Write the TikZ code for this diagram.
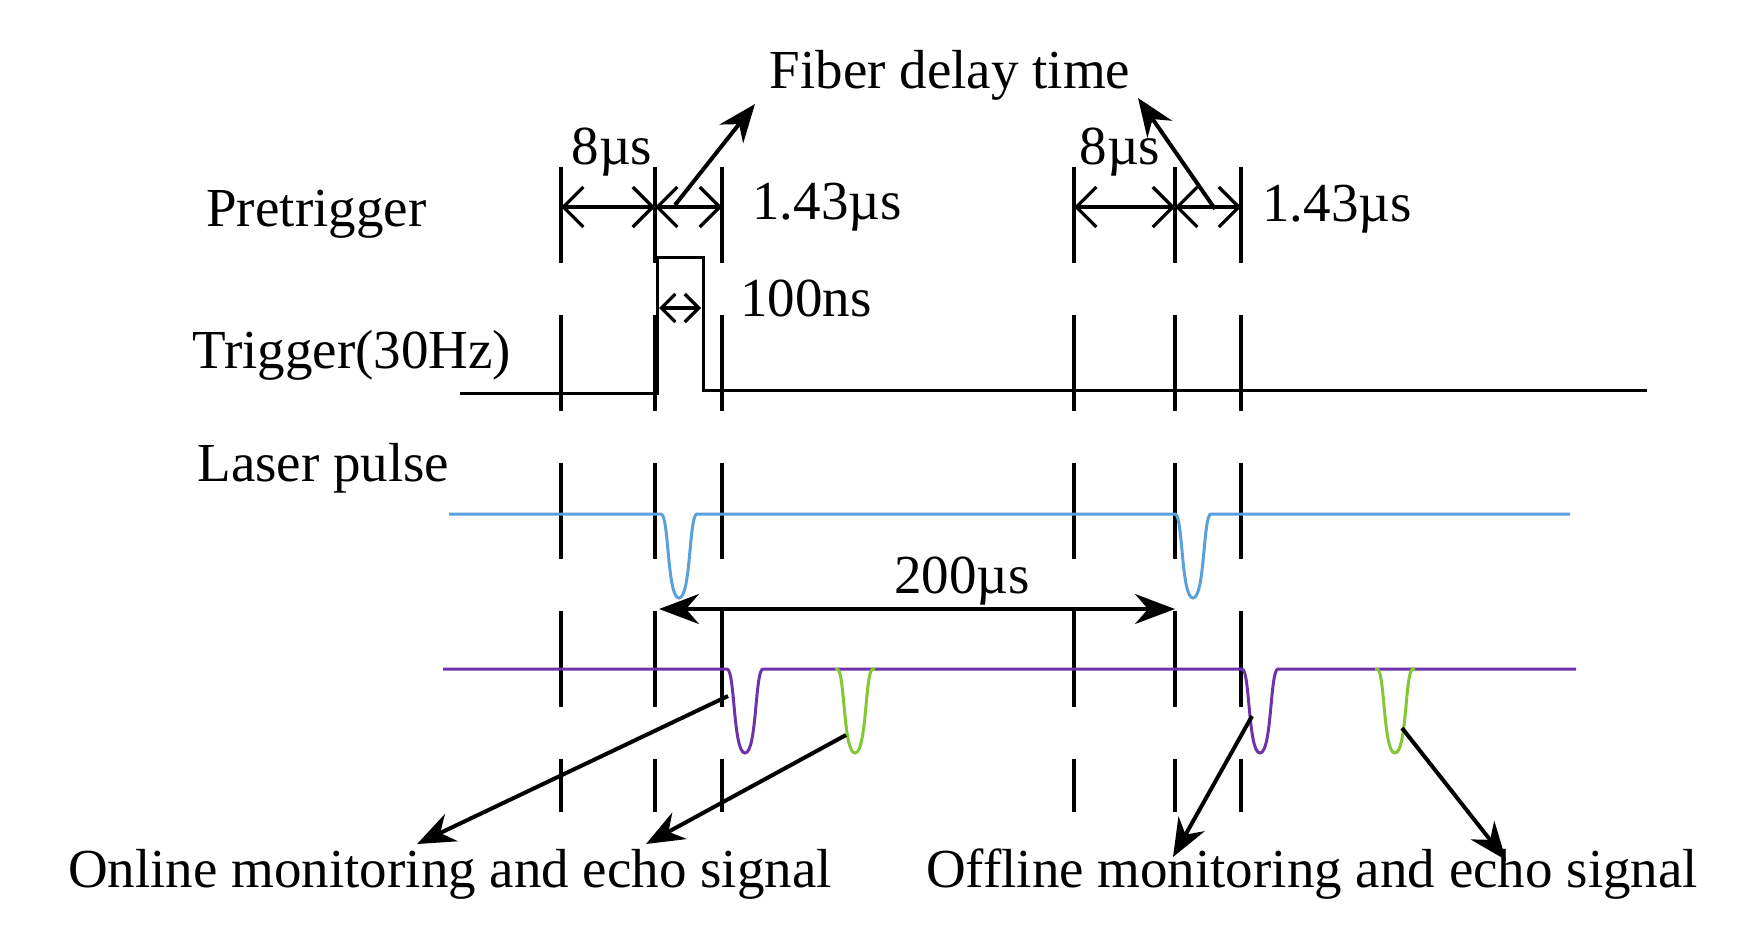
\documentclass[tikz,border=0pt]{standalone}
\usepackage{fontspec}
\setmainfont{Liberation Serif}
\usetikzlibrary{arrows.meta}
\begin{document}
\begin{tikzpicture}[x=0.5pt,y=-0.5pt,
  lbl/.style={font=\fontsize{27.5}{30}\selectfont,inner sep=0pt},
  dashln/.style={line width=1.6pt,dash pattern=on 48pt off 26pt},
  dimarr/.style={line width=1.6pt,{Straight Barb[length=10pt,width=20pt]}-{Straight Barb[length=10pt,width=20pt]}},
  ann/.style={line width=2pt,-{Stealth[length=19pt,width=15pt]}},
  sig/.style={line width=1.5pt}]
\useasboundingbox (0,0) rectangle (1759,943);
% dashed vertical lines
\foreach \x/\n in {561/a,655/b,722/c,1074/d,1175/e,1241/f}{
  \coordinate (\n t) at (\x,167); \coordinate (\n m) at (\x,207);
  \draw[dashln] (\x,167) -- (\x,812);
}
% labels
\node[lbl,anchor=west] (pre) at (206,214) {Pretrigger};
\node[lbl,anchor=west] (trg) at (192,355) {Trigger(30Hz)};
\node[lbl,anchor=west] (las) at (197,468) {Laser pulse};
\node[lbl] (fib) at (950,75) {Fiber delay time};
\node[lbl] (e1) at (612,152) {8µs};
\node[lbl] (e2) at (1120,152) {8µs};
\node[lbl,anchor=west] (t1) at (752,207) {1.43µs};
\node[lbl,anchor=west] (t2) at (1262,209) {1.43µs};
\node[lbl,anchor=west] (ns) at (740,298) {100ns};
\node[lbl] (d200) at (962,581) {200µs};
\node[lbl] (on) at (450,874) {Online monitoring and echo signal};
\node[lbl] (off) at (1312,874) {Offline monitoring and echo signal};
% dimension arrows
\draw[dimarr] (am) -- (bm);
\draw[dimarr] (bm) -- (cm);
\draw[dimarr] (dm) -- (em);
\draw[dimarr] (em) -- (fm);
\draw[dimarr,{Straight Barb[length=7pt,width=14pt]}-{Straight Barb[length=7pt,width=14pt]}] (659,308) -- (701,308);
% fiber arrows
\draw[ann] (675,205) -- (755,104);
\draw[ann] (1215,209) -- (1138,98);
% trigger
\draw[sig] (460,393) -- (657,393) -- (657,257) -- (703,257) -- (703,390) -- (1647,390);
% laser
\def\dip#1#2#3{(#1-20,#2) -- (#1-18,#2) .. controls (#1-10,#2) and (#1-12,#3) .. (#1,#3) .. controls (#1+12,#3) and (#1+10,#2) .. (#1+18,#2) -- (#1+20,#2)}
\draw[sig,color={rgb,255:red,90;green,160;blue,220}] (449,514) -- (659,514) \dip{679}{514}{598} -- (1173,514) \dip{1193}{514}{598} -- (1570,514);
\draw[dimarr,{Stealth[length=20pt,width=15pt]}-{Stealth[length=20pt,width=15pt]}] (659,609) -- (1175,609);
% echo
\draw[sig,color={rgb,255:red,110;green,50;blue,170}] (443,669) -- (725,669) \dip{745}{669}{753} -- (1240,669) \dip{1260}{669}{753} -- (1576,669);
\draw[sig,color={rgb,255:red,130;green,200;blue,50}] \dip{855}{669}{753};
\draw[sig,color={rgb,255:red,130;green,200;blue,50}] \dip{1395}{669}{753};
% annotation arrows
\draw[ann] (728,696) -- (417,844);
\draw[ann] (846,735) -- (646,844);
\draw[ann] (1252,716) -- (1173,857);
\draw[ann] (1402,728) -- (1506,860);
\end{tikzpicture}
\end{document}
